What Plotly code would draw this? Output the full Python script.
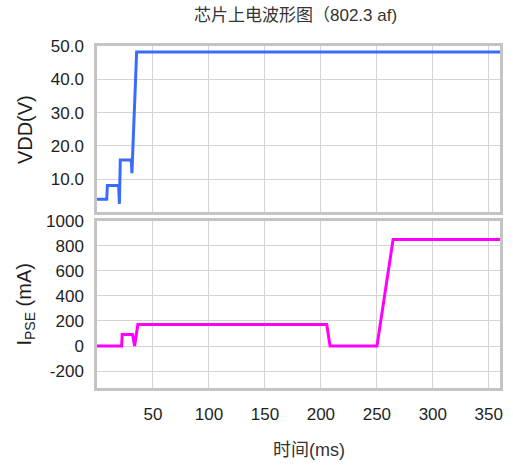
import plotly.graph_objects as go

# ---- data ----
time_vdd = [0, 8.7, 9.3, 19.3, 20.0, 20.8, 30.6, 31.2, 35.4, 360]
vdd = [4.0, 4.0, 8.1, 8.1, 2.6, 15.8, 15.8, 11.8, 48.2, 48.2]

time_ipse = [0, 22.0, 22.5, 31.8, 33.6, 36.5, 205.2, 208.2, 250.1, 264.5, 360]
ipse = [0, 0, 92, 92, 0, 172, 172, 0, 0, 850, 850]

x_ticks = [50, 100, 150, 200, 250, 300, 350]
vdd_ticks = [10, 20, 30, 40, 50]
vdd_ticktext = ["10.0", "20.0", "30.0", "40.0", "50.0"]
ipse_ticks = [-200, 0, 200, 400, 600, 800, 1000]
ipse_ticktext = ["-200", "0", "200", "400", "600", "800", "1000"]

title_text = "芯片上电波形图（802.3 af)"
x_title = "时间(ms)"
vdd_title = "VDD(V)"
ipse_title = "I<sub>PSE</sub> (mA)"

FONT = "Liberation Sans, Arial, Noto Sans CJK SC"
GRID = "#d4d4d4"
FRAME = "#c4c4c4"
TXT = "#1e1e1e"

fig = go.Figure()
fig.add_trace(go.Scatter(x=time_vdd, y=vdd, mode="lines",
                         line=dict(color="#3a6bff", width=3),
                         xaxis="x", yaxis="y", showlegend=False))
fig.add_trace(go.Scatter(x=time_ipse, y=ipse, mode="lines",
                         line=dict(color="#ff00ff", width=3),
                         xaxis="x2", yaxis="y2", showlegend=False))

axis_common = dict(showgrid=True, gridcolor=GRID, gridwidth=1,
                   showline=True, linecolor=FRAME, linewidth=2.5, mirror=True,
                   zeroline=False, ticks="", tickfont=dict(family=FONT, size=17, color=TXT))

fig.update_layout(
    width=513, height=468,
    margin=dict(l=97, r=10, t=46, b=80),
    paper_bgcolor="white", plot_bgcolor="white",
    font=dict(family=FONT, color=TXT),
    xaxis=dict(domain=[0, 1], range=[0, 360], anchor="y",
               tickvals=x_ticks, showticklabels=False, **axis_common),
    yaxis=dict(domain=[0.5132, 1], range=[0, 50], anchor="x",
               tickvals=vdd_ticks, ticktext=vdd_ticktext,
               ticklabelstandoff=7, **axis_common),
    xaxis2=dict(domain=[0, 1], range=[0, 360], anchor="y2",
                tickvals=x_ticks, ticklabelstandoff=9, **axis_common),
    yaxis2=dict(domain=[0, 0.4892], range=[-335, 1000], anchor="x2",
                tickvals=ipse_ticks, ticktext=ipse_ticktext,
                ticklabelstandoff=7, **axis_common),
    annotations=[
        dict(text=title_text, xref="paper", yref="paper", x=0.4926, y=1.0906,
             xanchor="center", yanchor="middle", showarrow=False,
             font=dict(family=FONT, size=17, color="#333333")),
        dict(text=x_title, xref="paper", yref="paper", x=0.527, y=-0.181,
             xanchor="center", yanchor="middle", showarrow=False,
             font=dict(family=FONT, size=18, color="#333333")),
        dict(text=vdd_title, xref="paper", yref="paper", x=-0.177, y=0.756,
             xanchor="center", yanchor="middle", showarrow=False, textangle=-90,
             font=dict(family=FONT, size=20, color=TXT)),
        dict(text=ipse_title, xref="paper", yref="paper", x=-0.177, y=0.243,
             xanchor="center", yanchor="middle", showarrow=False, textangle=-90,
             font=dict(family=FONT, size=20, color=TXT)),
    ],
)

fig.write_html("out.html",
               config={"displayModeBar": False},
               post_script="document.body.style.margin='0';document.body.style.padding='0';")
